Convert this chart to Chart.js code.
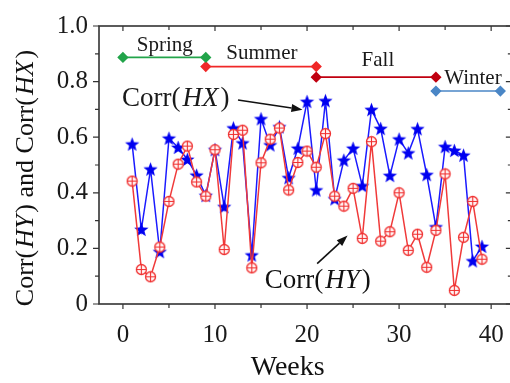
<!DOCTYPE html>
<html>
<head>
<meta charset="utf-8">
<title>Weekly correlation</title>
<script src="https://cdn.jsdelivr.net/npm/chart.js@4.4.1/dist/chart.umd.min.js"></script>
<style>
    html, body { margin: 0; padding: 0; background: #fff; overflow: hidden; }
    #wrap { width: 520px; height: 383px; }
</style>
</head>
<body>
<div id="wrap"><canvas id="corrChart"></canvas></div>
<script>
// Weekly correlation values
const weeks = [1, 2, 3, 4, 5, 6, 7, 8, 9, 10, 11, 12, 13, 14, 15, 16, 17, 18, 19, 20,
               21, 22, 23, 24, 25, 26, 27, 28, 29, 30, 31, 32, 33, 34, 35, 36, 37, 38, 39];
const corrHX = [0.575, 0.268, 0.485, 0.188, 0.596, 0.563, 0.52, 0.463, 0.39, 0.555,
                0.35, 0.633, 0.579, 0.176, 0.666, 0.572, 0.637, 0.454, 0.56, 0.728,
                0.41, 0.731, 0.378, 0.517, 0.56, 0.425, 0.699, 0.631, 0.462, 0.593,
                0.543, 0.63, 0.465, 0.277, 0.566, 0.552, 0.535, 0.155, 0.207];
const corrHY = [0.442, 0.124, 0.098, 0.205, 0.369, 0.503, 0.568, 0.439, 0.388, 0.555,
                0.196, 0.61, 0.625, 0.13, 0.508, 0.593, 0.633, 0.41, 0.509, 0.55,
                0.492, 0.613, 0.388, 0.352, 0.416, 0.236, 0.584, 0.226, 0.26, 0.4,
                0.193, 0.251, 0.132, 0.265, 0.468, 0.049, 0.24, 0.369, 0.161];

// Season spans (week ranges) and the height of each bar
const seasonNames = ['Spring', 'Summer', 'Fall', 'Winter'];
const seasonStart = [0, 9, 21, 34];
const seasonEnd = [9, 21, 34, 41];
const seasonLevel = [0.887, 0.854, 0.816, 0.766];
const seasonColors = ['#22a44a', '#f02828', '#c00010', '#4a86c6'];
// label anchor per season: [week, value, align]
const seasonLabelPos = [[4.55, 0.91, 'center'], [15.1, 0.882, 'center'], [27.7, 0.855, 'center'], [34.9, 0.792, 'left']];

const xTicks = [0, 10, 20, 30, 40];
const yTicks = [0, 0.2, 0.4, 0.6, 0.8, 1.0];

const SERIF = '"Liberation Serif", "Times New Roman", serif';

// filled five-point star marker
function makeStar(color) {
    const c = document.createElement('canvas');
    c.width = 17; c.height = 17;
    const g = c.getContext('2d');
    g.beginPath();
    for (let i = 0; i < 10; i++) {
        const r = i % 2 === 0 ? 7.5 : 3.2;
        const a = -Math.PI / 2 + i * Math.PI / 5;
        const px = 8.5 + r * Math.cos(a), py = 9.1 + r * Math.sin(a);
        if (i === 0) g.moveTo(px, py); else g.lineTo(px, py);
    }
    g.closePath();
    g.fillStyle = color;
    g.fill();
    return c;
}

// circle with a plus inside
function makeCirclePlus(color) {
    const c = document.createElement('canvas');
    c.width = 13; c.height = 13;
    const g = c.getContext('2d');
    g.beginPath();
    g.arc(6.5, 6.5, 5, 0, Math.PI * 2);
    g.fillStyle = '#fff4f4';
    g.fill();
    g.lineWidth = 1.3;
    g.strokeStyle = color;
    g.stroke();
    g.beginPath();
    g.moveTo(1.5, 6.5); g.lineTo(11.5, 6.5);
    g.moveTo(6.5, 1.5); g.lineTo(6.5, 11.5);
    g.lineWidth = 1.1;
    g.stroke();
    return c;
}

// draws a run of [text, italic] parts starting at x
function drawRich(ctx, parts, x, y, size, align) {
    const gap = 2;
    let total = 0;
    parts.forEach(([txt, it]) => {
        ctx.font = `${it ? 'italic ' : ''}${size}px ${SERIF}`;
        total += ctx.measureText(txt).width + (it ? gap * 2 : 0);
    });
    let cx = align === 'center' ? x - total / 2 : x;
    ctx.textAlign = 'left';
    parts.forEach(([txt, it]) => {
        ctx.font = `${it ? 'italic ' : ''}${size}px ${SERIF}`;
        if (it) cx += gap;
        ctx.fillText(txt, cx, y);
        cx += ctx.measureText(txt).width + (it ? gap : 0);
    });
}

function drawArrow(ctx, x1, y1, x2, y2) {
    const ang = Math.atan2(y2 - y1, x2 - x1);
    const len = 11, wid = 4;
    ctx.beginPath();
    ctx.moveTo(x1, y1);
    ctx.lineTo(x2 - len * Math.cos(ang), y2 - len * Math.sin(ang));
    ctx.lineWidth = 1.6;
    ctx.strokeStyle = '#111';
    ctx.stroke();
    ctx.beginPath();
    ctx.moveTo(x2, y2);
    ctx.lineTo(x2 - len * Math.cos(ang) + wid * Math.sin(ang), y2 - len * Math.sin(ang) - wid * Math.cos(ang));
    ctx.lineTo(x2 - len * Math.cos(ang) - wid * Math.sin(ang), y2 - len * Math.sin(ang) + wid * Math.cos(ang));
    ctx.closePath();
    ctx.fillStyle = '#111';
    ctx.fill();
}

// frame, ticks, titles and annotations
const decorPlugin = {
    id: 'decor',
    afterDraw(chart) {
        const { ctx, chartArea: a, scales: { x, y } } = chart;
        ctx.save();
        ctx.strokeStyle = '#333';
        ctx.lineWidth = 1.6;
        ctx.strokeRect(a.left, a.top, a.right - a.left, a.bottom - a.top);

        ctx.lineWidth = 1.2;
        for (let w = 0; w <= 40; w += 5) {
            const px = x.getPixelForValue(w);
            const L = w % 10 === 0 ? 5 : 4;
            ctx.beginPath();
            ctx.moveTo(px, a.bottom); ctx.lineTo(px, a.bottom + L);
            ctx.moveTo(px, a.top); ctx.lineTo(px, a.top + L);
            ctx.stroke();
        }
        for (let k = 0; k <= 10; k++) {
            const py = y.getPixelForValue(k / 10);
            const L = k % 2 === 0 ? 6 : 4;
            ctx.beginPath();
            ctx.moveTo(a.left, py); ctx.lineTo(a.left - L, py);
            ctx.moveTo(a.right, py); ctx.lineTo(a.right - L, py);
            ctx.stroke();
        }

        ctx.fillStyle = '#1a1a1a';
        ctx.textBaseline = 'alphabetic';

        // season labels
        seasonNames.forEach((name, i) => {
            const [w, v, al] = seasonLabelPos[i];
            ctx.font = `21px ${SERIF}`;
            ctx.textAlign = al;
            ctx.fillText(name, x.getPixelForValue(w), y.getPixelForValue(v));
        });

        // series annotations
        drawRich(ctx, [['Corr(', false], ['HX', true], [')', false]],
            x.getPixelForValue(-0.1), y.getPixelForValue(0.713), 27, 'left');
        drawArrow(ctx, x.getPixelForValue(12.5), y.getPixelForValue(0.734),
            x.getPixelForValue(19.5), y.getPixelForValue(0.699));
        drawRich(ctx, [['Corr(', false], ['HY', true], [')', false]],
            x.getPixelForValue(15.4), y.getPixelForValue(0.059), 27, 'left');
        drawArrow(ctx, x.getPixelForValue(21.1), y.getPixelForValue(0.145),
            x.getPixelForValue(24.4), y.getPixelForValue(0.246));

        // axis titles
        ctx.font = `28px ${SERIF}`;
        ctx.textAlign = 'center';
        ctx.fillText('Weeks', x.getPixelForValue(17.9), 375);

        ctx.translate(33, (a.top + a.bottom) / 2 + 13);
        ctx.rotate(-Math.PI / 2);
        drawRich(ctx, [['Corr(', false], ['HY', true], [') and Corr(', false], ['HX', true], [')', false]],
            0, 0, 26, 'center');
        ctx.restore();
    }
};

const seasonSets = seasonNames.map((name, i) => ({
    label: name,
    data: [{ x: seasonStart[i], y: seasonLevel[i] }, { x: seasonEnd[i], y: seasonLevel[i] }],
    borderColor: seasonColors[i],
    backgroundColor: seasonColors[i],
    borderWidth: 1.6,
    pointStyle: 'rectRot',
    pointRadius: 4.5,
    order: 3
}));

new Chart(document.getElementById('corrChart'), {
    type: 'line',
    data: {
        datasets: [
            {
                label: 'Corr(HY)',
                data: weeks.map((w, i) => ({ x: w, y: corrHY[i] })),
                borderColor: '#f03a3a',
                borderWidth: 1.5,
                pointStyle: makeCirclePlus('#f03030'),
                order: 1
            },
            {
                label: 'Corr(HX)',
                data: weeks.map((w, i) => ({ x: w, y: corrHX[i] })),
                borderColor: '#1a1aff',
                borderWidth: 1.5,
                pointStyle: makeStar('#0000f0'),
                order: 2
            },
            ...seasonSets
        ]
    },
    options: {
        responsive: true,
        maintainAspectRatio: false,
        animation: false,
        layout: { padding: { top: 15, right: 7, left: 0, bottom: 0 } },
        plugins: { legend: { display: false }, tooltip: { enabled: false } },
        elements: { line: { tension: 0, fill: false } },
        scales: {
            x: {
                type: 'linear',
                min: -2.6,
                max: 42.25,
                grid: { display: false, drawTicks: false },
                border: { display: false },
                afterBuildTicks: (s) => { s.ticks = xTicks.map(v => ({ value: v })); },
                afterFit: (s) => { s.height = 79; },
                ticks: {
                    padding: 16,
                    maxRotation: 0,
                    color: '#1a1a1a',
                    font: { family: SERIF, size: 25 }
                }
            },
            y: {
                min: 0,
                max: 1,
                grid: { display: false, drawTicks: false },
                border: { display: false },
                afterBuildTicks: (s) => { s.ticks = yTicks.map(v => ({ value: v })); },
                afterFit: (s) => { s.width = 99; },
                ticks: {
                    padding: 11,
                    color: '#1a1a1a',
                    font: { family: SERIF, size: 25 },
                    callback: (v) => v === 0 ? '0' : v.toFixed(1)
                }
            }
        }
    },
    plugins: [decorPlugin]
});
</script>
</body>
</html>
